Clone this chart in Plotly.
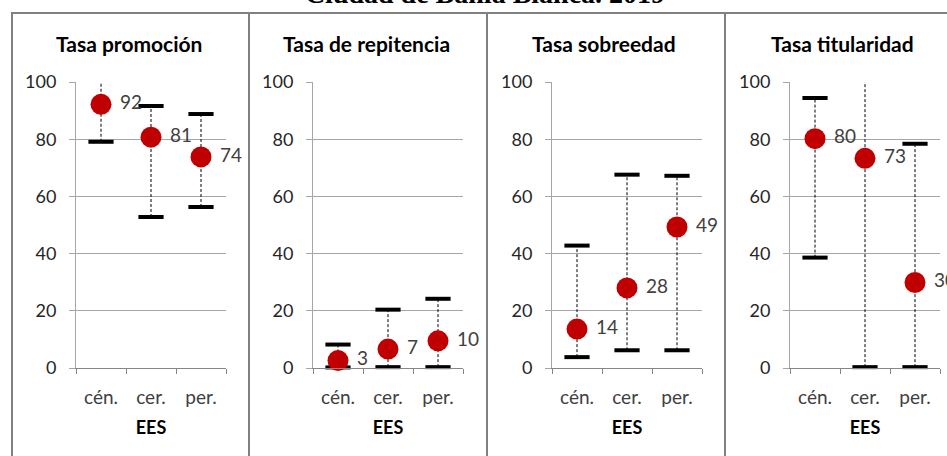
import plotly.graph_objects as go

# ---- data -------------------------------------------------------------
categories = ["cén.", "cer.", "per."]
panel_titles = ["Tasa promoción", "Tasa de repitencia", "Tasa sobreedad", "Tasa titularidad"]
y_ticks = [0, 20, 40, 60, 80, 100]

promo_mean = [92.2, 80.7, 73.8]
promo_hi = [100.3, 91.6, 88.8]
promo_lo = [79.1, 52.8, 56.3]

rep_mean = [2.6, 6.6, 9.5]
rep_hi = [8.2, 20.4, 24.2]
rep_lo = [0.2, 0.3, 0.3]

sob_mean = [13.6, 28.0, 49.3]
sob_hi = [42.8, 67.6, 67.2]
sob_lo = [3.8, 6.2, 6.2]

tit_mean = [80.2, 73.3, 29.9]
tit_hi = [94.4, 100.3, 78.4]
tit_lo = [38.6, 0.3, 0.3]

panels = [
    (promo_mean, promo_hi, promo_lo),
    (rep_mean, rep_hi, rep_lo),
    (sob_mean, sob_hi, sob_lo),
    (tit_mean, tit_hi, tit_lo),
]

# ---- layout geometry (pixels) ----------------------------------------
W, H = 947, 456
FONT = "Lato, 'Open Sans', sans-serif"
panel_left = [12, 249, 487, 725]
panel_right = [249, 487, 725, 970]
axis_left = [76, 313, 552, 790]
plot_width = 150
y_top_px, y_bottom_px = 82, 368


def px_x(p):
    return p / W


def px_y(p):
    return 1 - p / H


fig = go.Figure()

for i, (mean, hi, lo) in enumerate(panels):
    n = i + 1
    xa = "x" if n == 1 else f"x{n}"
    ya = "y" if n == 1 else f"y{n}"

    # dashed range stems
    sx, sy = [], []
    for c, l, h in zip(categories, lo, hi):
        sx += [c, c, None]
        sy += [l, h, None]
    fig.add_trace(go.Scatter(
        x=sx, y=sy, mode="lines", xaxis=xa, yaxis=ya,
        line=dict(color="#000000", width=1, dash="3px,2px"),
        hoverinfo="skip", showlegend=False, cliponaxis=False,
    ))
    # caps at both ends
    fig.add_trace(go.Scatter(
        x=categories + categories, y=hi + lo, mode="markers", xaxis=xa, yaxis=ya,
        marker=dict(symbol="line-ew", size=18, line=dict(color="#000000", width=4)),
        hoverinfo="skip", showlegend=False, cliponaxis=False,
    ))
    # mean markers with value labels
    fig.add_trace(go.Scatter(
        x=categories, y=mean, mode="markers+text", xaxis=xa, yaxis=ya,
        marker=dict(color="#C00000", size=21, line=dict(width=0)),
        text=[f"\u00a0{v:.0f}" for v in mean], textposition="middle right",
        textfont=dict(family=FONT, size=19, color="#404040"),
        showlegend=False, cliponaxis=False,
    ))

    x0 = px_x(axis_left[i])
    x1 = px_x(axis_left[i] + plot_width)
    fig.update_layout({
        ("xaxis" if n == 1 else f"xaxis{n}"): dict(
            domain=[x0, x1], anchor=ya, type="category", automargin=False,
            range=[-0.5, 2.5], tickson="boundaries",
            ticks="outside", ticklen=5, tickcolor="#868686",
            ticklabelstandoff=12,
            showline=True, linecolor="#868686", linewidth=1,
            showgrid=False, zeroline=False,
            tickfont=dict(family=FONT, size=19, color="#404040"),
            title=dict(text="<b>EES</b>", standoff=14,
                       font=dict(family=FONT, size=18, color="#000000")),
        ),
        ("yaxis" if n == 1 else f"yaxis{n}"): dict(
            domain=[px_y(y_bottom_px), px_y(y_top_px)], anchor=xa, automargin=False,
            range=[0, 100], tickvals=y_ticks,
            ticks="outside", ticklen=6, tickcolor="#A6A6A6",
            ticklabelstandoff=9,
            showline=True, linecolor="#A6A6A6", linewidth=1,
            showgrid=True, gridcolor="#A6A6A6", gridwidth=1,
            zeroline=False,
            tickfont=dict(family=FONT, size=18, color="#262626"),
        ),
    })

    # panel frame
    fig.add_shape(type="rect", xref="paper", yref="paper",
                  x0=px_x(panel_left[i]), x1=px_x(panel_right[i]),
                  y0=-0.2, y1=px_y(13),
                  line=dict(color="#808080", width=2), layer="below")
    # panel title
    fig.add_annotation(text=f"<b>{panel_titles[i]}</b>", xref="paper", yref="paper",
                       x=px_x(panel_left[i] + 117), y=px_y(44),
                       xanchor="center", yanchor="middle",
                       showarrow=False, font=dict(family=FONT, size=21, color="#000000"))

fig.update_layout(
    width=W, height=H,
    margin=dict(l=0, r=0, t=0, b=0),
    paper_bgcolor="white", plot_bgcolor="white",
    showlegend=False,
    # overall title, sitting mostly above the top edge
    title=dict(text="<b>Ciudad de Bahía Blanca. 2019</b>",
               xref="container", yref="container",
               x=485 / W, xanchor="center",
               y=1 - 3 / H, yanchor="bottom",
               font=dict(family="'Liberation Serif', serif", size=28, color="#000000")),
)

fig.write_html("out.html")
